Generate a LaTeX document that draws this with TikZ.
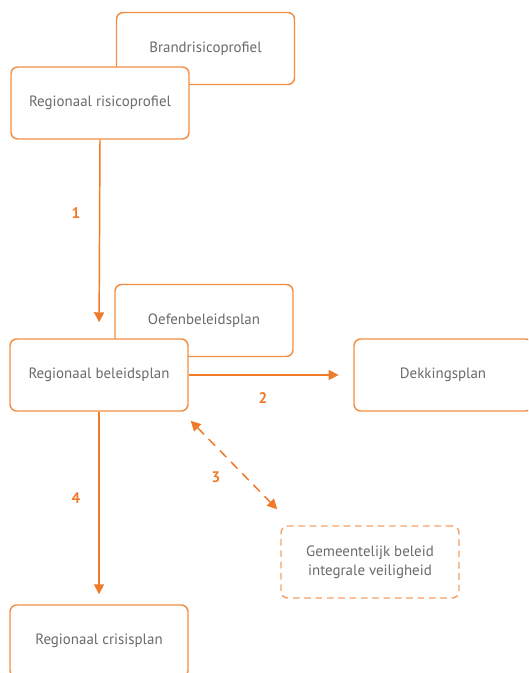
\documentclass[tikz,border=0pt]{standalone}
\usepackage{fontspec}
\setmainfont{PT Sans}
\usetikzlibrary{arrows.meta,calc}
\definecolor{arr}{HTML}{EE7A2A}
\definecolor{boxc}{HTML}{F28E42}
\definecolor{dboxc}{HTML}{F4A266}
\definecolor{txt}{HTML}{6A6A6A}
\tikzset{
  box/.style={draw=boxc, line width=1.1pt, rounded corners=5pt, fill=white,
    minimum width=133.5pt, minimum height=54pt, inner sep=0pt,
    font=\fontsize{11.2}{14.5}\selectfont, text=txt, align=center},
  dbox/.style={box, draw=dboxc, dash pattern=on 5pt off 3.5pt},
  conn/.style={draw=arr, line width=1.1pt, -{Triangle[width=7.5pt,length=7.5pt]}},
  dconn/.style={conn, {Triangle[width=7.5pt,length=7.5pt]}-{Triangle[width=7.5pt,length=7.5pt]}, dash pattern=on 7pt off 5pt},
  lbl/.style={text=arr, font=\fontsize{11.5}{13}\selectfont\bfseries, inner sep=0pt}
}
\begin{document}
\begin{tikzpicture}[x=0.75pt,y=-0.75pt]
\useasboundingbox (0,0) rectangle (528,673);
\clip (0,0) rectangle (528,673);
\node[box] (brand) at (205.5,48.5) {Brandrisicoprofiel};
\node[box] (rrp) at (100,103) {Regionaal risicoprofiel};
\node[box] (oef) at (204,320.5) {Oefenbeleidsplan};
\node[box] (rbp) at (99,375) {Regionaal beleidsplan};
\node[box] (dek) at (443,375) {Dekkingsplan};
\node[dbox] (gem) at (370,562) {Gemeentelijk beleid\\integrale veiligheid};
\node[box] (cri) at (99,641) {Regionaal crisisplan};
\coordinate (a3s) at ([shift={(2,9)}]rbp.south east);
\coordinate (a3e) at ([shift={(-3,-16)}]gem.north west);
\draw[conn, shorten >=12pt] (rrp.south) -- (rbp.north);
\draw[conn, shorten >=11pt] (rbp.east) -- (dek.west);
\draw[conn, shorten >=7.5pt] (rbp.south) -- (cri.north);
\draw[dconn] (a3s) -- (a3e);
\node[lbl] (l1) at (76,213) {1};
\node[lbl] (l2) at (263,398) {2};
\node[lbl] (l3) at (216,477) {3};
\node[lbl] (l4) at (76,498) {4};
\end{tikzpicture}
\end{document}
